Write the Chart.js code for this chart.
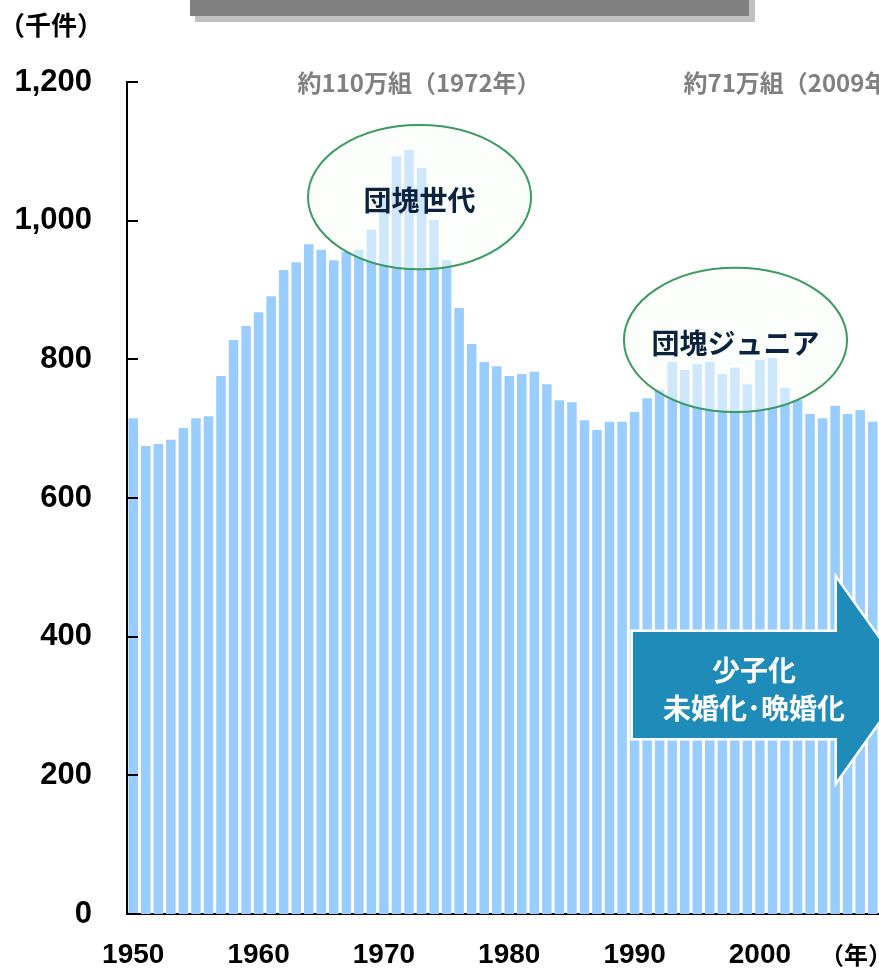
<!DOCTYPE html>
<html>
<head>
<meta charset="utf-8">
<script src="https://cdn.jsdelivr.net/npm/chart.js@4"></script>
<style>
  html, body { margin: 0; padding: 0; background: #fff; overflow: hidden; }
  #wrap { position: relative; width: 879px; height: 972px; }
</style>
</head>
<body>
<div id="wrap"><canvas id="marriageChart" width="879" height="972"></canvas></div>
<script>
// 婚姻件数（千件）
const years = [
  1950, 1951, 1952, 1953, 1954, 1955, 1956, 1957, 1958, 1959,
  1960, 1961, 1962, 1963, 1964, 1965, 1966, 1967, 1968, 1969,
  1970, 1971, 1972, 1973, 1974, 1975, 1976, 1977, 1978, 1979,
  1980, 1981, 1982, 1983, 1984, 1985, 1986, 1987, 1988, 1989,
  1990, 1991, 1992, 1993, 1994, 1995, 1996, 1997, 1998, 1999,
  2000, 2001, 2002, 2003, 2004, 2005, 2006, 2007, 2008, 2009
];
const marriages = [
  715, 675, 678, 684, 701, 715, 718, 776, 828, 848,
  868, 891, 929, 940, 966, 958, 943, 955, 958, 987,
  1033, 1093, 1102, 1076, 1001, 943, 874, 822, 796, 790,
  776, 779, 782, 764, 741, 738, 712, 698, 710, 710,
  724, 744, 756, 796, 785, 793, 796, 779, 788, 764,
  799, 802, 759, 741, 721, 715, 733, 721, 727, 710
];
const labelYears = [1950, 1960, 1970, 1980, 1990, 2000];

const peakNotes = [
  { text: '約110万組（1972年）', at: 22.8, align: 'center' },
  { text: '約71万組（2009年）', at: 43.9, align: 'left' }
];
const bubbles = [
  { text: '団塊世代', at: 22.84, value: 1034 },
  { text: '団塊ジュニア', at: 48.05, value: 828 }
];
const trendLines = ['少子化', '未婚化･晩婚化'];

const CJK = '"Noto Sans CJK JP", "Noto Sans CJK SC", sans-serif';
const NUM = '"Liberation Sans", Arial, sans-serif';

const overlay = {
  id: 'overlay',
  afterDatasetsDraw(chart) {
    const ctx = chart.ctx;
    const xs = chart.scales.x, ys = chart.scales.y;
    const px = i => xs.getPixelForValue(i);
    const py = v => ys.getPixelForValue(v);
    ctx.save();

    // ellipses
    bubbles.forEach(b => {
      const cx = px(b.at), cy = py(b.value);
      const rx = px(b.at + 8.9) - cx;
      const ry = py(b.value - 104) - cy;
      ctx.beginPath();
      ctx.ellipse(cx, cy, rx, ry, 0, 0, Math.PI * 2);
      ctx.fillStyle = 'rgba(250,254,250,0.55)';
      ctx.fill();
      ctx.lineWidth = 2;
      ctx.strokeStyle = '#3C9B62';
      ctx.stroke();
      ctx.fillStyle = '#0C2340';
      ctx.font = 'bold 28px ' + CJK;
      ctx.textAlign = 'center';
      ctx.textBaseline = 'middle';
      ctx.fillText(b.text, cx, cy + 3);
    });

    // arrow
    ctx.beginPath();
    ctx.moveTo(px(39.87), py(406.7));
    ctx.lineTo(px(56.15), py(406.7));
    ctx.lineTo(px(56.15), py(481.7));
    ctx.lineTo(px(61.82), py(337.5));
    ctx.lineTo(px(56.15), py(193.3));
    ctx.lineTo(px(56.15), py(253.9));
    ctx.lineTo(px(39.87), py(253.9));
    ctx.closePath();
    ctx.lineJoin = 'miter';
    ctx.lineWidth = 5;
    ctx.strokeStyle = '#ffffff';
    ctx.stroke();
    ctx.fillStyle = '#1F8BB9';
    ctx.fill();

    ctx.fillStyle = '#ffffff';
    ctx.font = 'bold 28px ' + CJK;
    ctx.textAlign = 'center';
    ctx.textBaseline = 'middle';
    ctx.fillText(trendLines[0], px(49.53), py(352));
    ctx.fillText(trendLines[1], px(49.53), py(297));

    ctx.restore();
  },
  afterDraw(chart) {
    const ctx = chart.ctx;
    const xs = chart.scales.x, ys = chart.scales.y;
    const area = chart.chartArea;
    ctx.save();

    // inner tick marks on the value axis
    ctx.strokeStyle = '#000';
    ctx.lineWidth = 2;
    ys.ticks.forEach(t => {
      const y = Math.round(ys.getPixelForValue(t.value));
      ctx.beginPath();
      ctx.moveTo(area.left, y);
      ctx.lineTo(area.left + 11, y);
      ctx.stroke();
    });

    // header bar (cut at the top)
    ctx.fillStyle = '#C0C0C0';
    ctx.fillRect(195, 0, 560, 22);
    ctx.fillStyle = '#808080';
    ctx.fillRect(190, 0, 559, 16);

    // peak notes
    ctx.fillStyle = '#808080';
    ctx.font = 'bold 24px ' + CJK;
    ctx.textBaseline = 'middle';
    peakNotes.forEach(n => {
      ctx.textAlign = n.align;
      ctx.fillText(n.text, xs.getPixelForValue(n.at), area.top + 1);
    });

    // unit labels
    ctx.fillStyle = '#000';
    ctx.textAlign = 'left';
    ctx.font = 'bold 26px ' + CJK;
    ctx.fillText('（千件）', -1, 25);
    ctx.font = 'bold 24px ' + CJK;
    ctx.fillText('（年）', 820, 955);

    ctx.restore();
  }
};

new Chart(document.getElementById('marriageChart'), {
  type: 'bar',
  data: {
    labels: years,
    datasets: [{
      data: marriages,
      backgroundColor: '#99CCFF',
      borderWidth: 0,
      barPercentage: 0.76,
      categoryPercentage: 1.0
    }]
  },
  options: {
    responsive: false,
    animation: false,
    devicePixelRatio: 1,
    layout: { padding: { top: 82, left: 0, right: 0, bottom: 0 } },
    plugins: {
      legend: { display: false },
      tooltip: { enabled: false }
    },
    scales: {
      x: {
        grid: { display: false, drawTicks: false },
        border: { display: true, color: '#000', width: 2 },
        ticks: {
          autoSkip: false,
          maxRotation: 0,
          minRotation: 0,
          padding: 24,
          color: '#000',
          font: { family: NUM, size: 28, weight: 'bold' },
          callback: (v, i) => labelYears.includes(years[i]) ? String(years[i]) : ''
        },
        afterFit(s) { s.height = 58; s.paddingLeft = 0; s.paddingRight = 0; }
      },
      y: {
        min: 0,
        max: 1200,
        grid: { display: false, drawTicks: false },
        border: { display: true, color: '#000', width: 2 },
        ticks: {
          stepSize: 200,
          padding: 35,
          color: '#000',
          font: { family: NUM, size: 31, weight: 'bold' },
          callback: v => v.toLocaleString('en-US')
        },
        afterFit(s) { s.width = 127; s.paddingTop = 0; s.paddingBottom = 0; }
      }
    }
  },
  plugins: [overlay]
});
</script>
</body>
</html>
